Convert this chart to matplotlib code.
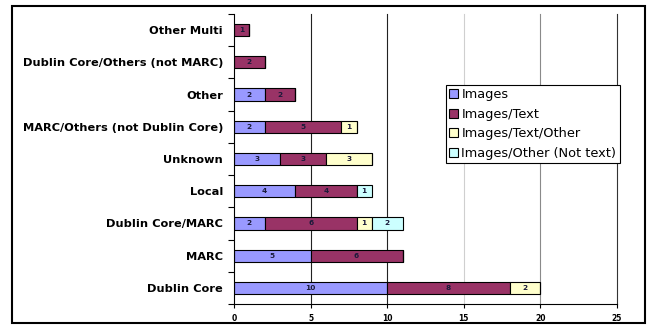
import numpy as np
import matplotlib.pyplot as plt
from matplotlib.patches import Rectangle

categories = ["Dublin Core", "MARC", "Dublin Core/MARC", "Local", "Unknown",
              "MARC/Others (not Dublin Core)", "Other",
              "Dublin Core/Others (not MARC)", "Other Multi"]
images = [10, 5, 2, 4, 3, 2, 2, 0, 0]
images_text = [8, 6, 6, 4, 3, 5, 2, 2, 1]
images_text_other = [2, 0, 1, 0, 3, 1, 0, 0, 0]
images_other = [0, 0, 2, 1, 0, 0, 0, 0, 0]

series = [
    ("Images", images, "#9999FF"),
    ("Images/Text", images_text, "#993366"),
    ("Images/Text/Other", images_text_other, "#FFFFCC"),
    ("Images/Other (Not text)", images_other, "#CCFFFF"),
]

fig = plt.figure(figsize=(6.48, 3.25), dpi=100)
fig.patches.append(Rectangle((12 / 648, 2 / 325), 633 / 648, 317 / 325,
                             transform=fig.transFigure, fill=False,
                             edgecolor="black", linewidth=1.5))
ax = fig.add_axes([234 / 648, 21 / 325, 383 / 648, 290 / 325])

# vertical gridlines
grid_colors = {5: "#222222", 10: "#222222", 15: "#cfcfcf", 20: "#8a8a8a", 25: "#333333"}
for xv, c in grid_colors.items():
    ax.axvline(xv, color=c, linewidth=0.8, zorder=0, clip_on=False)

y = np.arange(len(categories))
left = np.zeros(len(categories))
handles = []
for name, vals, color in series:
    vals = np.array(vals, dtype=float)
    bars = ax.barh(y, vals, left=left, height=0.38, color=color,
                   edgecolor="black", linewidth=0.8, label=name, zorder=2)
    handles.append(bars)
    for yi, (l, v) in enumerate(zip(left, vals)):
        if v > 0:
            ax.text(l + v / 2, yi, f"{int(v)}", ha="center", va="center",
                    fontsize=5.3, fontweight="bold", color="#1a1a3a", zorder=3)
    left += vals

ax.set_xlim(0, 25)
ax.set_ylim(-0.5, 8.5)
ax.set_xticks([0, 5, 10, 15, 20, 25])
ax.tick_params(axis="x", labelsize=5.5, length=3, width=0.8, pad=4)
for lab in ax.get_xticklabels():
    lab.set_fontweight("bold")

ax.set_yticks(y)
ax.set_yticklabels(categories, fontsize=8.2, fontweight="bold")
ax.tick_params(axis="y", length=0, pad=8)
ax.set_yticks(np.arange(-0.5, 9, 1), minor=True)
ax.tick_params(axis="y", which="minor", length=4, width=0.8)

for side in ["top", "right"]:
    ax.spines[side].set_visible(False)
ax.spines["left"].set_linewidth(0.8)
ax.spines["bottom"].set_linewidth(0.8)

leg = fig.legend(handles=handles, loc="upper left",
                 bbox_to_anchor=(446 / 648, 1 - 85 / 325),
                 fontsize=9.3, frameon=True, fancybox=False,
                 edgecolor="black", framealpha=1, borderpad=0.25,
                 handlelength=0.7, handleheight=0.7, handletextpad=0.25,
                 labelspacing=0.5, borderaxespad=0)
leg.get_frame().set_linewidth(0.8)

fig.savefig("out.png", dpi=100)
